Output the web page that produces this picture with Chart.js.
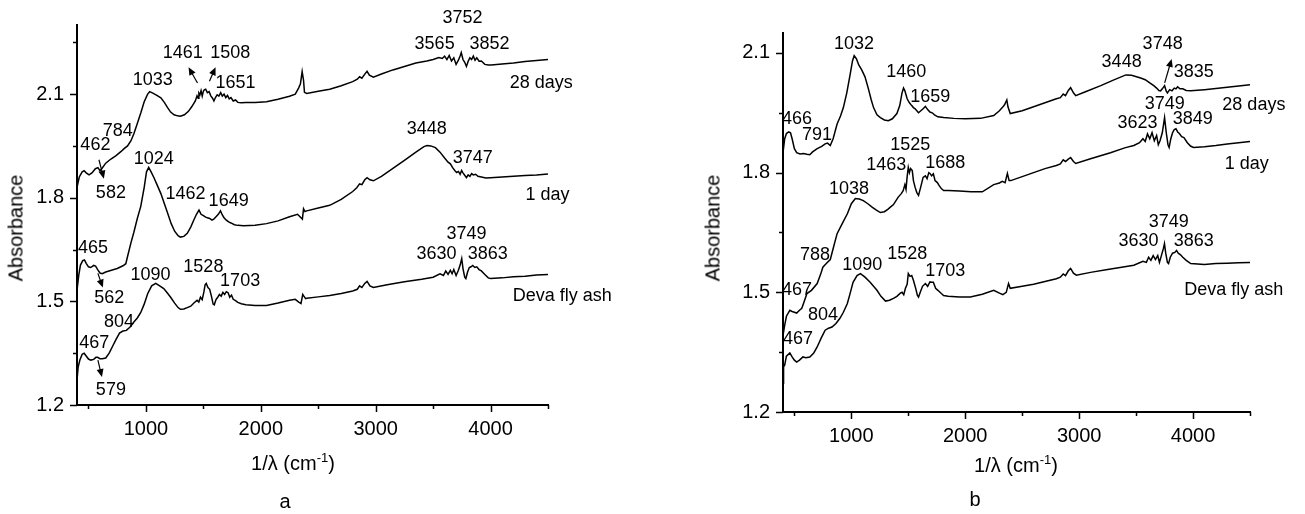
<!DOCTYPE html>
<html>
<head>
<meta charset="utf-8">
<script src="https://cdn.jsdelivr.net/npm/chart.js@4.4.1/dist/chart.umd.min.js"></script>
<style>
  html, body { margin: 0; padding: 0; background: #fff; }
  #wrap { position: relative; width: 1305px; height: 514px; background: #fff; font-family: "Liberation Sans", Arial, sans-serif; color: #000; }
  .panel { position: absolute; top: 0; height: 514px; }
  .lbl { position: absolute; transform: translate(-50%, -50%); white-space: nowrap; font-size: 20px; }
  .ytitle { position: absolute; transform: translate(-50%, -50%) rotate(-90deg); white-space: nowrap; font-size: 20px; }
  sup { font-size: 13px; vertical-align: 8px; line-height: 0; }
</style>
</head>
<body>
<div id="wrap">
  <div class="panel" style="left:0;width:620px"><canvas id="chartA"></canvas></div>
  <div class="panel" style="left:650px;width:655px"><canvas id="chartB"></canvas></div>
  <div class="ytitle" style="left:16px;top:228px">Absorbance</div>
  <div class="ytitle" style="left:713px;top:228px">Absorbance</div>
  <div class="lbl" style="left:293px;top:463px">1/λ (cm<sup>-1</sup>)</div>
  <div class="lbl" style="left:1016px;top:465px">1/λ (cm<sup>-1</sup>)</div>
  <div class="lbl" style="left:285px;top:501px">a</div>
  <div class="lbl" style="left:975px;top:499px">b</div>
</div>
<script>
// --- axes ---
const xTicks = [500, 1000, 1500, 2000, 2500, 3000, 3500, 4000, 4500];
const xLabels = [1000, 2000, 3000, 4000];
const yTicksA = [1.2, 1.35, 1.5, 1.65, 1.8, 1.95, 2.1, 2.25];
const yTicksB = [1.2, 1.35, 1.5, 1.65, 1.8, 1.95, 2.1];
const yLabels = [1.2, 1.5, 1.8, 2.1];

// --- panel a spectra: [wavenumber, absorbance] ---
const a28days = [[400,1.83],[420,1.86],[445,1.875],[462,1.878],[480,1.872],[505,1.866],[530,1.872],[560,1.884],[582,1.887],[600,1.878],[620,1.886],[650,1.9],[695,1.912],[740,1.922],[784,1.934],[810,1.942],[840,1.95],[870,1.965],[895,1.985],[925,2.015],[955,2.045],[985,2.078],[1015,2.1],[1033,2.107],[1060,2.103],[1095,2.096],[1130,2.089],[1160,2.076],[1190,2.06],[1215,2.048],[1245,2.04],[1275,2.037],[1300,2.036],[1335,2.04],[1370,2.05],[1400,2.064],[1430,2.08],[1445,2.095],[1455,2.088],[1461,2.103],[1470,2.098],[1480,2.11],[1490,2.094],[1500,2.108],[1508,2.112],[1520,2.114],[1535,2.104],[1550,2.107],[1565,2.095],[1580,2.088],[1592,2.08],[1605,2.09],[1620,2.098],[1635,2.094],[1651,2.104],[1665,2.094],[1680,2.1],[1695,2.09],[1710,2.096],[1725,2.086],[1740,2.09],[1760,2.08],[1780,2.083],[1800,2.076],[1830,2.075],[1870,2.076],[1950,2.076],[2050,2.078],[2150,2.085],[2250,2.094],[2300,2.1],[2330,2.118],[2345,2.13],[2360,2.165],[2372,2.14],[2380,2.105],[2400,2.102],[2500,2.108],[2600,2.114],[2700,2.124],[2800,2.136],[2840,2.143],[2860,2.15],[2880,2.146],[2910,2.16],[2925,2.166],[2945,2.155],[2980,2.149],[3050,2.158],[3150,2.17],[3250,2.18],[3350,2.19],[3445,2.196],[3500,2.2],[3550,2.206],[3580,2.203],[3600,2.21],[3620,2.2],[3640,2.212],[3660,2.196],[3680,2.205],[3700,2.186],[3720,2.198],[3735,2.21],[3745,2.22],[3760,2.2],[3775,2.192],[3790,2.18],[3805,2.195],[3820,2.205],[3835,2.2],[3850,2.21],[3865,2.198],[3880,2.205],[3900,2.195],[3920,2.196],[3950,2.186],[3980,2.184],[4005,2.184],[4100,2.187],[4200,2.19],[4300,2.194],[4400,2.197],[4500,2.2]];
const a1day = [[400,1.532],[415,1.575],[430,1.605],[450,1.618],[465,1.62],[480,1.61],[500,1.6],[520,1.598],[545,1.604],[562,1.602],[580,1.592],[600,1.582],[620,1.58],[650,1.585],[700,1.59],[750,1.595],[800,1.603],[825,1.609],[840,1.63],[870,1.67],[895,1.7],[925,1.74],[955,1.775],[985,1.83],[1005,1.875],[1024,1.888],[1045,1.875],[1070,1.858],[1100,1.835],[1130,1.812],[1160,1.783],[1190,1.754],[1220,1.725],[1250,1.703],[1280,1.69],[1300,1.686],[1330,1.688],[1360,1.697],[1390,1.715],[1415,1.734],[1440,1.752],[1462,1.764],[1480,1.752],[1500,1.748],[1520,1.744],[1535,1.742],[1555,1.74],[1575,1.735],[1590,1.738],[1610,1.745],[1630,1.752],[1649,1.762],[1665,1.75],[1680,1.742],[1700,1.735],[1720,1.73],[1740,1.727],[1770,1.722],[1800,1.72],[1850,1.719],[1950,1.72],[2050,1.725],[2150,1.733],[2250,1.745],[2320,1.752],[2350,1.742],[2362,1.738],[2372,1.768],[2385,1.76],[2400,1.762],[2500,1.77],[2600,1.778],[2700,1.795],[2800,1.818],[2835,1.829],[2860,1.84],[2880,1.838],[2905,1.852],[2925,1.858],[2950,1.852],[2980,1.849],[3050,1.862],[3150,1.885],[3250,1.908],[3350,1.932],[3420,1.948],[3448,1.951],[3480,1.95],[3520,1.945],[3560,1.932],[3600,1.915],[3630,1.903],[3650,1.898],[3670,1.887],[3690,1.878],[3705,1.873],[3720,1.876],[3735,1.868],[3748,1.879],[3760,1.872],[3775,1.865],[3790,1.858],[3805,1.866],[3820,1.862],[3835,1.87],[3850,1.866],[3870,1.868],[3890,1.862],[3920,1.86],[3960,1.857],[4000,1.858],[4100,1.86],[4200,1.862],[4300,1.864],[4400,1.866],[4500,1.869]];
const aFlyAsh = [[400,1.272],[410,1.31],[425,1.33],[445,1.347],[462,1.35],[480,1.342],[500,1.333],[520,1.33],[545,1.332],[565,1.338],[579,1.338],[600,1.334],[620,1.334],[650,1.336],[680,1.35],[710,1.37],[740,1.39],[770,1.408],[800,1.414],[830,1.416],[860,1.425],[895,1.44],[925,1.452],[955,1.468],[985,1.492],[1015,1.522],[1050,1.545],[1085,1.552],[1120,1.545],[1155,1.537],[1185,1.525],[1215,1.512],[1250,1.495],[1280,1.482],[1300,1.477],[1330,1.478],[1360,1.482],[1390,1.486],[1420,1.496],[1445,1.503],[1460,1.498],[1475,1.512],[1490,1.505],[1505,1.528],[1515,1.548],[1525,1.552],[1540,1.54],[1555,1.535],[1570,1.515],[1585,1.492],[1595,1.49],[1610,1.505],[1625,1.512],[1640,1.52],[1655,1.515],[1670,1.526],[1685,1.52],[1700,1.528],[1715,1.525],[1730,1.512],[1745,1.518],[1760,1.506],[1780,1.502],[1800,1.497],[1830,1.493],[1870,1.49],[1950,1.488],[2050,1.488],[2150,1.495],[2250,1.503],[2300,1.506],[2330,1.498],[2350,1.494],[2365,1.52],[2375,1.515],[2390,1.508],[2400,1.509],[2500,1.513],[2600,1.517],[2700,1.523],[2800,1.53],[2840,1.535],[2860,1.545],[2880,1.54],[2905,1.552],[2925,1.558],[2950,1.545],[2980,1.54],[3100,1.548],[3250,1.557],[3400,1.564],[3500,1.57],[3560,1.58],[3590,1.575],[3610,1.588],[3630,1.578],[3650,1.59],[3665,1.58],[3680,1.592],[3700,1.575],[3720,1.59],[3735,1.605],[3749,1.624],[3760,1.595],[3775,1.57],[3785,1.566],[3800,1.585],[3815,1.598],[3830,1.6],[3845,1.604],[3863,1.598],[3880,1.6],[3900,1.592],[3920,1.588],[3950,1.578],[3980,1.568],[4000,1.566],[4100,1.568],[4200,1.571],[4300,1.573],[4400,1.576],[4500,1.578]];

// --- panel b spectra ---
const b28days = [[400,1.85],[415,1.885],[430,1.898],[450,1.902],[466,1.9],[480,1.885],[500,1.86],[520,1.85],[550,1.847],[580,1.848],[610,1.846],[635,1.845],[660,1.852],[700,1.86],[740,1.866],[770,1.872],[791,1.874],[815,1.868],[840,1.885],[875,1.922],[905,1.942],[930,1.963],[960,2.0],[990,2.047],[1010,2.08],[1025,2.093],[1045,2.085],[1065,2.07],[1090,2.058],[1120,2.04],[1150,2.01],[1175,1.982],[1195,1.963],[1225,1.945],[1255,1.938],[1290,1.932],[1325,1.93],[1360,1.935],[1400,1.948],[1425,1.968],[1445,2.0],[1458,2.012],[1470,2.005],[1490,1.985],[1510,1.975],[1530,1.968],[1545,1.963],[1560,1.96],[1575,1.955],[1590,1.95],[1610,1.955],[1630,1.96],[1650,1.966],[1670,1.958],[1690,1.952],[1710,1.95],[1730,1.945],[1760,1.94],[1810,1.938],[1900,1.936],[2000,1.935],[2135,1.936],[2250,1.943],[2300,1.955],[2325,1.963],[2345,1.97],[2365,1.982],[2375,1.965],[2395,1.948],[2500,1.955],[2600,1.965],[2700,1.975],[2800,1.985],[2835,1.988],[2860,1.997],[2880,1.993],[2905,2.006],[2925,2.013],[2950,2.0],[2970,1.993],[3050,2.002],[3190,2.018],[3300,2.032],[3410,2.045],[3460,2.044],[3540,2.037],[3580,2.033],[3620,2.025],[3655,2.018],[3680,2.012],[3700,2.006],[3715,2.005],[3730,2.01],[3750,2.018],[3765,2.004],[3775,2.0],[3795,2.008],[3815,2.005],[3835,2.012],[3850,2.01],[3865,2.015],[3885,2.01],[3910,2.01],[3940,2.006],[3980,2.005],[4100,2.008],[4200,2.011],[4300,2.014],[4400,2.017],[4500,2.02]];
const b1day = [[400,1.392],[415,1.418],[430,1.44],[460,1.455],[480,1.452],[500,1.45],[520,1.448],[545,1.455],[565,1.46],[590,1.48],[610,1.497],[650,1.505],[700,1.522],[730,1.545],[750,1.563],[780,1.572],[815,1.582],[845,1.615],[875,1.647],[920,1.672],[965,1.697],[1000,1.722],[1035,1.735],[1070,1.734],[1105,1.73],[1145,1.722],[1185,1.713],[1220,1.706],[1255,1.7],[1290,1.702],[1320,1.708],[1340,1.713],[1370,1.72],[1410,1.738],[1440,1.748],[1455,1.755],[1470,1.77],[1480,1.758],[1490,1.79],[1500,1.813],[1510,1.8],[1520,1.81],[1535,1.805],[1545,1.78],[1560,1.763],[1575,1.75],[1590,1.743],[1610,1.765],[1630,1.788],[1650,1.792],[1665,1.785],[1680,1.8],[1690,1.798],[1705,1.792],[1720,1.797],[1735,1.78],[1755,1.775],[1770,1.768],[1790,1.76],[1810,1.755],[1850,1.755],[1950,1.754],[2050,1.752],[2150,1.752],[2250,1.77],[2300,1.774],[2325,1.778],[2350,1.775],[2370,1.798],[2385,1.78],[2400,1.78],[2500,1.79],[2600,1.8],[2700,1.81],[2800,1.818],[2835,1.822],[2860,1.832],[2880,1.828],[2905,1.834],[2925,1.838],[2950,1.828],[2970,1.823],[3100,1.835],[3275,1.85],[3400,1.862],[3480,1.868],[3530,1.875],[3560,1.885],[3580,1.878],[3600,1.897],[3620,1.885],[3640,1.9],[3660,1.88],[3680,1.893],[3695,1.87],[3710,1.88],[3730,1.9],[3750,1.938],[3765,1.9],[3780,1.87],[3790,1.863],[3805,1.885],[3820,1.9],[3835,1.908],[3850,1.91],[3865,1.902],[3880,1.898],[3900,1.89],[3920,1.888],[3950,1.875],[3980,1.866],[4005,1.863],[4100,1.865],[4200,1.868],[4300,1.872],[4400,1.875],[4500,1.878]];
const bFlyAsh = [[400,1.272],[405,1.313],[415,1.318],[430,1.34],[460,1.348],[480,1.338],[500,1.33],[520,1.325],[545,1.33],[575,1.338],[600,1.336],[635,1.338],[670,1.348],[700,1.363],[735,1.385],[770,1.405],[800,1.41],[830,1.413],[865,1.422],[900,1.435],[930,1.45],[965,1.472],[990,1.498],[1015,1.525],[1050,1.542],[1080,1.547],[1120,1.538],[1165,1.525],[1195,1.515],[1225,1.505],[1260,1.49],[1300,1.478],[1335,1.48],[1370,1.485],[1400,1.49],[1430,1.498],[1445,1.5],[1460,1.494],[1475,1.51],[1490,1.52],[1500,1.547],[1515,1.54],[1530,1.542],[1545,1.53],[1565,1.51],[1580,1.492],[1590,1.488],[1605,1.5],[1625,1.515],[1650,1.522],[1670,1.515],[1690,1.526],[1705,1.525],[1720,1.525],[1740,1.51],[1760,1.505],[1790,1.497],[1810,1.492],[1850,1.49],[1950,1.488],[2045,1.488],[2150,1.495],[2250,1.505],[2300,1.498],[2330,1.494],[2360,1.5],[2380,1.522],[2395,1.51],[2500,1.515],[2600,1.52],[2700,1.527],[2800,1.534],[2835,1.538],[2860,1.546],[2880,1.542],[2905,1.554],[2925,1.56],[2950,1.548],[2975,1.543],[3100,1.55],[3250,1.557],[3400,1.564],[3480,1.568],[3560,1.578],[3590,1.575],[3610,1.588],[3630,1.58],[3650,1.592],[3670,1.582],[3690,1.592],[3705,1.575],[3725,1.595],[3740,1.61],[3749,1.622],[3760,1.598],[3775,1.575],[3785,1.572],[3800,1.588],[3820,1.598],[3840,1.6],[3855,1.605],[3870,1.598],[3890,1.594],[3910,1.588],[3940,1.58],[3980,1.572],[4100,1.57],[4200,1.572],[4300,1.573],[4400,1.574],[4500,1.575]];

// --- peak labels: [text, wavenumber, absorbance] ---
const notesA = [
  ['3752', 3756, 2.319], ['3565', 3513, 2.244], ['3852', 3990, 2.244], ['28 days', 4442, 2.132],
  ['1461', 1320, 2.218], ['1508', 1735, 2.218], ['1033', 1060, 2.140], ['1651', 1780, 2.132],
  ['784', 755, 1.993], ['462', 560, 1.953], ['582', 695, 1.814],
  ['1024', 1068, 1.912], ['1462', 1345, 1.811], ['1649', 1720, 1.791],
  ['3448', 3445, 1.999], ['3747', 3845, 1.915], ['1 day', 4495, 1.809],
  ['465', 540, 1.653], ['562', 680, 1.509], ['1090', 1040, 1.575], ['1528', 1500, 1.598], ['1703', 1820, 1.558],
  ['804', 765, 1.440], ['467', 550, 1.379], ['579', 695, 1.243],
  ['3749', 3790, 1.696], ['3630', 3530, 1.638], ['3863', 3975, 1.638], ['Deva fly ash', 4625, 1.514]
];
const arrowsA = [
  [1449, 2.132, 1371, 2.178], [1553, 2.137, 1606, 2.178],
  [591, 1.910, 634, 1.855], [582, 1.581, 625, 1.540], [582, 1.330, 617, 1.281]
];
const notesB = [
  ['1032', 1024, 2.122], ['1460', 1482, 2.053], ['1659', 1693, 1.99], ['466', 523, 1.935], ['791', 699, 1.893],
  ['3448', 3373, 2.078], ['3748', 3733, 2.122], ['3835', 4006, 2.053], ['28 days', 4534, 1.97],
  ['3749', 3751, 1.973], ['3623', 3513, 1.925], ['3849', 3997, 1.935], ['1 day', 4472, 1.822],
  ['1525', 1517, 1.87], ['1463', 1306, 1.818], ['1688', 1825, 1.825], ['1038', 980, 1.76],
  ['788', 681, 1.593], ['1090', 1095, 1.568], ['1528', 1491, 1.597], ['1703', 1825, 1.553],
  ['467', 523, 1.505], ['804', 752, 1.443], ['467', 532, 1.383],
  ['3749', 3786, 1.675], ['3630', 3522, 1.628], ['3863', 4006, 1.628], ['Deva fly ash', 4358, 1.505]
];
const arrowsB = [[3751, 2.025, 3812, 2.085]];

const FONT = '"Liberation Sans", Arial, sans-serif';

// outward ticks (long for labelled ones), peak labels and arrows, all via the scales
const notePlugin = {
    id: 'notes',
    afterDraw(chart, args, opts) {
        const ctx = chart.ctx;
        const xs = chart.scales.x, ys = chart.scales.y;
        const area = chart.chartArea;
        ctx.save();
        ctx.fillStyle = '#000';
        ctx.strokeStyle = '#000';

        ctx.lineWidth = 1.5;
        ctx.beginPath();
        xTicks.forEach(v => {
            const px = Math.round(xs.getPixelForValue(v)) + 0.5;
            const len = xLabels.includes(v) ? 7 : 4;
            ctx.moveTo(px, area.bottom);
            ctx.lineTo(px, area.bottom + len);
        });
        opts.yTicks.forEach(v => {
            const py = Math.round(ys.getPixelForValue(v)) + 0.5;
            const len = yLabels.includes(v) ? 7 : 4;
            ctx.moveTo(area.left, py);
            ctx.lineTo(area.left - len, py);
        });
        ctx.stroke();

        ctx.font = '18px ' + FONT;
        ctx.textAlign = 'center';
        ctx.textBaseline = 'middle';
        opts.labels.forEach(([t, vx, vy]) => {
            ctx.fillText(t, xs.getPixelForValue(vx), ys.getPixelForValue(vy));
        });
        ctx.lineWidth = 1.2;
        opts.arrows.forEach(([x1, y1, x2, y2]) => {
            const px1 = xs.getPixelForValue(x1), py1 = ys.getPixelForValue(y1);
            const px2 = xs.getPixelForValue(x2), py2 = ys.getPixelForValue(y2);
            const ang = Math.atan2(py2 - py1, px2 - px1);
            ctx.beginPath();
            ctx.moveTo(px1, py1);
            ctx.lineTo(px2 - 5 * Math.cos(ang), py2 - 5 * Math.sin(ang));
            ctx.stroke();
            ctx.beginPath();
            ctx.moveTo(px2, py2);
            ctx.lineTo(px2 - 8 * Math.cos(ang) + 3.5 * Math.sin(ang), py2 - 8 * Math.sin(ang) - 3.5 * Math.cos(ang));
            ctx.lineTo(px2 - 8 * Math.cos(ang) - 3.5 * Math.sin(ang), py2 - 8 * Math.sin(ang) + 3.5 * Math.cos(ang));
            ctx.closePath();
            ctx.fill();
        });
        ctx.restore();
    }
};

function toSet(pairs) {
    return {
        data: pairs.map(([x, y]) => ({x, y})),
        borderColor: '#000',
        borderWidth: 1.5,
        pointRadius: 0,
        tension: 0,
        fill: false
    };
}

function makeChart(id, sets, yTicks, yMax, axW, axH, pad, labels, arrows) {
    return new Chart(document.getElementById(id), {
        type: 'line',
        data: { datasets: sets.map(toSet) },
        plugins: [notePlugin],
        options: {
            responsive: true,
            maintainAspectRatio: false,
            animation: false,
            layout: { padding: pad },
            plugins: {
                legend: { display: false },
                tooltip: { enabled: false },
                notes: { labels, arrows, yTicks }
            },
            scales: {
                x: {
                    type: 'linear', min: 400, max: 4500,
                    afterBuildTicks: s => { s.ticks = xTicks.map(v => ({value: v})); },
                    afterFit: s => { s.height = axH; },
                    grid: { drawOnChartArea: false, drawTicks: false },
                    border: { color: '#000', width: 2 },
                    ticks: {
                        color: '#000', padding: 12, maxRotation: 0, autoSkip: false,
                        font: { size: 20, family: FONT },
                        callback: v => xLabels.includes(v) ? String(v) : ''
                    }
                },
                y: {
                    type: 'linear', min: 1.2, max: yMax,
                    afterBuildTicks: s => { s.ticks = yTicks.map(v => ({value: v})); },
                    afterFit: s => { s.width = axW; },
                    grid: { drawOnChartArea: false, drawTicks: false },
                    border: { color: '#000', width: 2 },
                    ticks: {
                        color: '#000', padding: 13, autoSkip: false,
                        font: { size: 20, family: FONT },
                        callback: v => yLabels.includes(v) ? v.toFixed(1) : ''
                    }
                }
            }
        }
    });
}

makeChart('chartA', [a28days, a1day, aFlyAsh], yTicksA, 2.3, 77, 109,
    { top: 23, right: 72, left: 0, bottom: 0 }, notesA, arrowsA);
makeChart('chartB', [b28days, b1day, bFlyAsh], yTicksB, 2.15, 133, 102,
    { top: 33, right: 55, left: 0, bottom: 0 }, notesB, arrowsB);
</script>
</body>
</html>
